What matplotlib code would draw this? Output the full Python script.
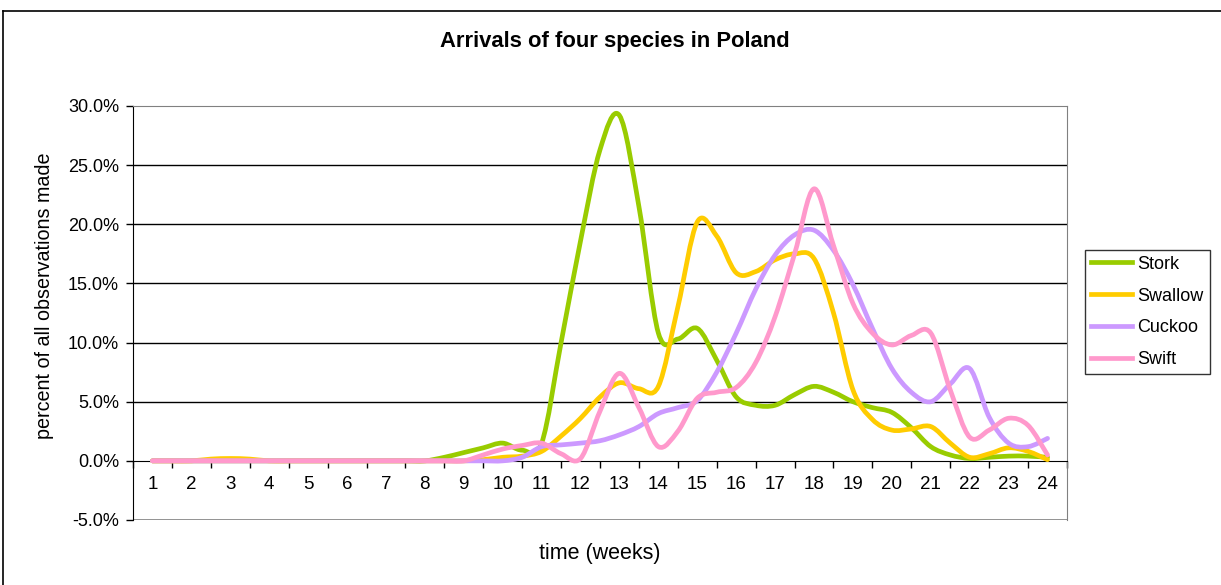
import numpy as np
import matplotlib
matplotlib.use("Agg")
import matplotlib.pyplot as plt
from matplotlib.ticker import FuncFormatter, FixedLocator
from matplotlib.lines import Line2D
from matplotlib.path import Path
from matplotlib.patches import PathPatch

plt.rcParams['font.family'] = ['Liberation Sans', 'DejaVu Sans']

# half-week sampling, week 1 .. week 24
weeks = np.arange(1, 24.5, 0.5)
week_labels = [str(w) for w in range(1, 25)]

stork = [0, 0, 0, 0, 0, 0, 0, 0, 0, 0, 0, 0, 0, 0, 0,
         0.3, 0.7, 1.1, 1.5, 0.9, 1.5, 10.0, 18.6, 26.3, 29.2, 21.5, 10.8,
         10.3, 11.2, 8.5, 5.4, 4.7, 4.7, 5.6, 6.3, 5.8, 5.0, 4.5, 4.1,
         2.8, 1.2, 0.5, 0.2, 0.3, 0.4, 0.4, 0.3]
swallow = [0, 0, 0, 0.15, 0.2, 0.15, 0, 0, 0, 0, 0, 0, 0, 0, 0, 0, 0,
           0.1, 0.3, 0.4, 0.8, 2.1, 3.6, 5.4, 6.6, 6.1, 6.3, 13.0, 20.2,
           19.0, 15.9, 16.0, 17.0, 17.5, 17.1, 12.5, 6.0, 3.5, 2.6, 2.7,
           2.9, 1.5, 0.3, 0.6, 1.1, 0.8, 0.1]
cuckoo = [0, 0, 0, 0, 0, 0, 0, 0, 0, 0, 0, 0, 0, 0, 0, 0, 0, 0, 0,
          0.3, 1.2, 1.35, 1.5, 1.7, 2.2, 2.9, 4.0, 4.5, 5.1, 7.5, 10.8,
          14.5, 17.4, 19.1, 19.5, 17.8, 14.9, 11.2, 7.8, 5.8, 5.0, 6.5,
          7.8, 3.7, 1.5, 1.2, 1.9]
swift = [0, 0, 0, 0, 0, 0, 0, 0, 0, 0, 0, 0, 0, 0, 0, 0, 0,
         0.5, 1.0, 1.3, 1.5, 0.6, 0.2, 4.2, 7.4, 4.5, 1.2, 2.5, 5.3, 5.8,
         6.2, 8.3, 12.2, 17.5, 23.0, 18.2, 13.3, 10.8, 9.8, 10.6, 10.8,
         6.0, 2.0, 2.6, 3.6, 3.0, 0.5]

species = ['Stork', 'Swallow', 'Cuckoo', 'Swift']
colors = ['#99CC00', '#FFCC00', '#CC99FF', '#FF99CC']
LW = 3.4


def smooth_path(x, y):
    """Bezier path through every point (like a spreadsheet 'smoothed line')."""
    p = np.column_stack([x, y]).astype(float)
    ext = np.vstack([p[0], p, p[-1]])
    verts = [p[0]]
    codes = [Path.MOVETO]
    for i in range(len(p) - 1):
        p0, p1, p2, p3 = ext[i], ext[i + 1], ext[i + 2], ext[i + 3]
        verts += [p1 + (p2 - p0) / 6, p2 - (p3 - p1) / 6, p2]
        codes += [Path.CURVE4] * 3
    return Path(verts, codes)


W, H = 1221, 585
fig = plt.figure(figsize=(W / 100, H / 100), dpi=100)

# chart area frame
fig.add_artist(Line2D([3 / W, 3 / W], [0, 1 - 11 / H], color='black', lw=1.2))
fig.add_artist(Line2D([3 / W, 1], [1 - 11 / H, 1 - 11 / H], color='black', lw=1.2))

left, right, top, bottom = 133, 1067, 106, 520
ax = fig.add_axes([left / W, 1 - bottom / H, (right - left) / W, (bottom - top) / H])

handles = []
for vals, name, c in zip([stork, swallow, cuckoo, swift], species, colors):
    patch = PathPatch(smooth_path(weeks, vals), fill=False, edgecolor=c, lw=LW,
                      joinstyle='round', capstyle='round', zorder=3,
                      transform=ax.transData, clip_on=False)
    ax.add_patch(patch)
    handles.append(Line2D([], [], color=c, lw=LW, label=name))

ax.set_xlim(0.5, 24.5)
ax.set_ylim(-5, 30)

# value axis
ax.set_yticks(np.arange(-5, 31, 5))
ax.yaxis.set_major_formatter(FuncFormatter(lambda v, p: f'{v:.1f}%'))
ax.tick_params(axis='y', direction='out', length=5, width=1, pad=5, labelsize=13)
for y in range(5, 30, 5):
    ax.axhline(y, color='black', lw=1, zorder=1)

# category axis sits on the 0% line
ax.spines['bottom'].set_position(('data', 0))
ax.spines['bottom'].set_color('black')
ax.spines['left'].set_color('black')
ax.spines['top'].set_color('#808080')
ax.spines['right'].set_color('#808080')
ax.axhline(-5, color='#808080', lw=1.2, zorder=1)
ax.xaxis.set_major_locator(FixedLocator(np.arange(0.5, 25, 1)))
ax.xaxis.set_major_formatter(FuncFormatter(lambda v, p: ''))
ax.set_xticks(np.arange(1, 25), week_labels, minor=True)
ax.tick_params(axis='x', which='major', direction='out', length=5, width=1)
ax.tick_params(axis='x', which='minor', length=0, pad=11, labelsize=13.5)

fig.text(600 / W, 1 - 553 / H, 'time (weeks)', ha='center', va='center', fontsize=15.5)
fig.text(45 / W, 1 - 296 / H, 'percent of all observations made', ha='center',
         va='center', rotation=90, fontsize=14.2)
fig.text(615 / W, 1 - 42 / H, 'Arrivals of four species in Poland', ha='center',
         va='center', fontsize=15.8, fontweight='bold')

leg = ax.legend(handles=handles, loc='center left',
                bbox_to_anchor=(1085 / W, 1 - 312 / H),
                bbox_transform=fig.transFigure, frameon=True, fancybox=False,
                fontsize=13, handlelength=2.27, handletextpad=0.3,
                labelspacing=0.83, borderpad=0.33, borderaxespad=0)
leg.get_frame().set_edgecolor('black')
leg.get_frame().set_linewidth(1)

fig.savefig('out.png', dpi=100)
